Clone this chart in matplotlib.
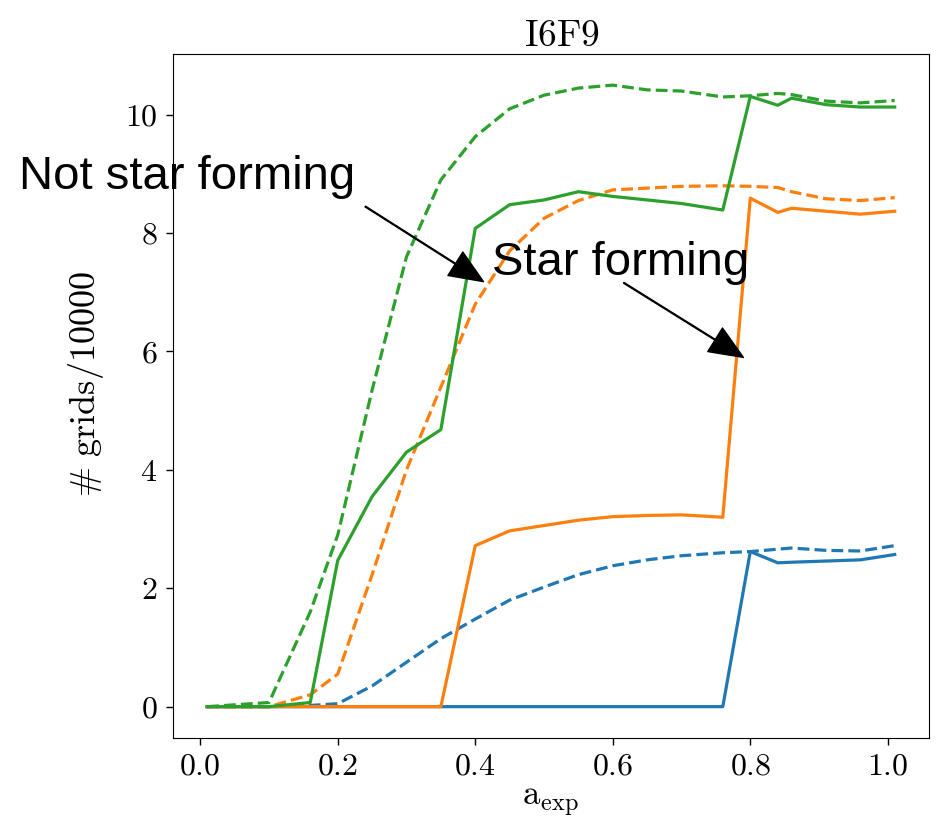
import matplotlib
matplotlib.use('Agg')
import matplotlib.pyplot as plt

plt.rcParams['mathtext.fontset'] = 'cm'
plt.rcParams['font.family'] = 'serif'
plt.rcParams['font.serif'] = ['cmr10', 'DejaVu Serif']
plt.rcParams['axes.formatter.use_mathtext'] = True

# scale factor a_exp
a_exp = [0.01, 0.10, 0.16, 0.20, 0.25, 0.30, 0.35, 0.40, 0.45, 0.50, 0.55,
         0.60, 0.65, 0.70, 0.76, 0.80, 0.84, 0.86, 0.91, 0.96, 1.01]

# star forming (solid)
blue_sf = [0, 0, 0, 0, 0, 0, 0, 0, 0, 0, 0,
           0, 0, 0, 0, 2.62, 2.43, 2.44, 2.46, 2.48, 2.57]
orange_sf = [0, 0, 0, 0, 0, 0, 0, 2.72, 2.97, 3.06, 3.15,
             3.21, 3.23, 3.24, 3.20, 8.59, 8.35, 8.42, 8.37, 8.32, 8.37]
green_sf = [0, 0, 0.07, 2.47, 3.55, 4.30, 4.68, 8.08, 8.48, 8.56, 8.70,
            8.62, 8.56, 8.50, 8.39, 10.31, 10.16, 10.28, 10.17, 10.13, 10.13]

# not star forming (dashed)
blue_nsf = [0, 0, 0.02, 0.05, 0.35, 0.75, 1.15, 1.48, 1.80, 2.02, 2.23,
            2.38, 2.48, 2.55, 2.60, 2.62, 2.66, 2.68, 2.64, 2.63, 2.72]
orange_nsf = [0, 0, 0.2, 0.55, 2.23, 4.0, 5.4, 6.8, 7.7, 8.25, 8.55,
              8.73, 8.76, 8.79, 8.80, 8.79, 8.77, 8.70, 8.58, 8.55, 8.60]
green_nsf = [0, 0.07, 1.6, 2.9, 5.35, 7.6, 8.9, 9.63, 10.1, 10.33, 10.45,
             10.5, 10.42, 10.4, 10.3, 10.32, 10.36, 10.34, 10.23, 10.2, 10.24]

fig = plt.figure(figsize=(9.49, 8.24), dpi=100)
ax = fig.add_axes([0.182, 0.1047, 0.797, 0.8297])

lw = 2.3
ax.plot(a_exp, blue_sf, color='#1f77b4', lw=lw)
ax.plot(a_exp, blue_nsf, color='#1f77b4', lw=lw, ls='--')
ax.plot(a_exp, orange_sf, color='#ff7f0e', lw=lw)
ax.plot(a_exp, orange_nsf, color='#ff7f0e', lw=lw, ls='--')
ax.plot(a_exp, green_sf, color='#2ca02c', lw=lw)
ax.plot(a_exp, green_nsf, color='#2ca02c', lw=lw, ls='--')

ax.set_title(r'$\mathrm{I6F9}$', fontsize=27, pad=6, x=0.515)
ax.set_xlabel(r'$\mathrm{a_{exp}}$', fontsize=25)
ax.set_ylabel(r'$\#\ \mathrm{grids}/10000$', fontsize=26)
ax.yaxis.set_label_coords(-0.088, 0.517)
ax.xaxis.set_label_coords(0.5, -0.071)
ax.set_xticks([0.0, 0.2, 0.4, 0.6, 0.8, 1.0])
ax.set_yticks([0, 2, 4, 6, 8, 10])
ax.tick_params(labelsize=23, length=5, width=1, pad=6)

arrow = dict(facecolor='black', edgecolor='black', width=0.6, headwidth=20, headlength=24, shrink=0)
ax.annotate('', xy=(0.412, 7.18), xytext=(0.240, 8.45), arrowprops=arrow, annotation_clip=False)
ax.annotate('', xy=(0.790, 5.90), xytext=(0.616, 7.16), arrowprops=arrow, annotation_clip=False)
ax.text(-0.263, 8.74, 'Not star forming', family='Liberation Sans', fontsize=34,
        ha='left', va='baseline', clip_on=False)
ax.text(0.4246, 7.29, 'Star forming', family='Liberation Sans', fontsize=34,
        ha='left', va='baseline', clip_on=False)

fig.savefig('out.png', dpi=100)
